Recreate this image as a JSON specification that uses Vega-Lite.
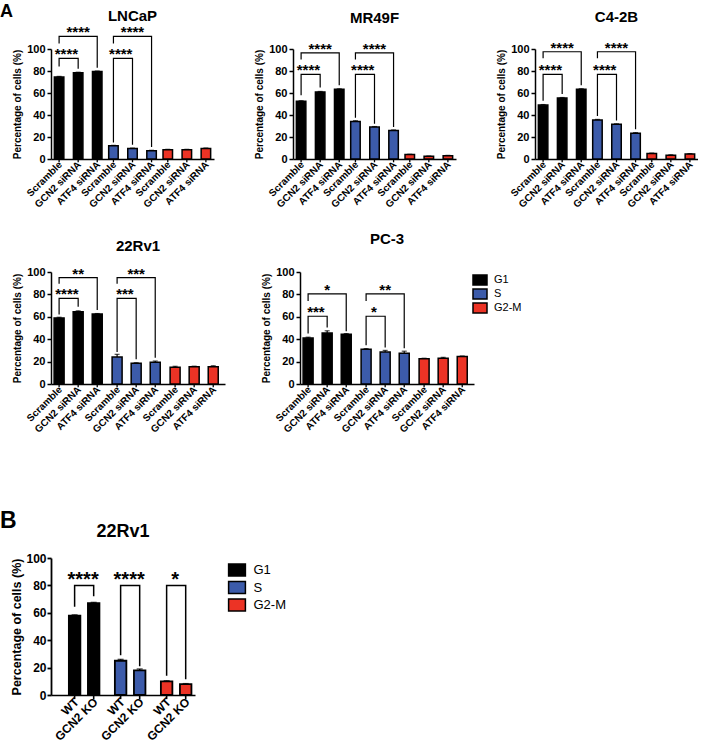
{
"$schema": "https://vega.github.io/schema/vega-lite/v6.json",
"padding": {"left": 0, "top": 3, "right": 0, "bottom": 0},
"background": "white",
"config": {
 "font": "Liberation Sans",
 "view": {"stroke": null},
 "axis": {"labelFont": "Liberation Sans", "labelFontSize": 11, "labelFontWeight": "bold", "labelColor": "#000", "labelOverlap": false, "titleFont": "Liberation Sans", "titleFontSize": 10, "titleFontWeight": "bold", "titleColor": "#000", "domainColor": "#000", "domainWidth": 1.5, "tickColor": "#000", "tickWidth": 1.5, "tickSize": 4, "labelPadding": 2, "titlePadding": 4, "grid": false},
 "title": {"font": "Liberation Sans", "fontWeight": "bold", "color": "#000", "frame": "group", "anchor": "middle", "baseline": "bottom"},
 "legend": {"labelFont": "Liberation Sans", "labelColor": "#000"}
},
"datasets": {"all": [
{"panel":"LNCaP","kind":"bar","phase":"G1","trt":"Scramble","value":74.5,"hi":75.1},
{"panel":"LNCaP","kind":"bar","phase":"G1","trt":"GCN2 siRNA","value":78.5,"hi":78.9},
{"panel":"LNCaP","kind":"bar","phase":"G1","trt":"ATF4 siRNA","value":79.5,"hi":80},
{"panel":"LNCaP","kind":"bar","phase":"S","trt":"Scramble","value":12,"hi":12.4},
{"panel":"LNCaP","kind":"bar","phase":"S","trt":"GCN2 siRNA","value":9.5,"hi":9.9},
{"panel":"LNCaP","kind":"bar","phase":"S","trt":"ATF4 siRNA","value":7.5,"hi":7.9},
{"panel":"LNCaP","kind":"bar","phase":"G2-M","trt":"Scramble","value":8.5,"hi":8.8},
{"panel":"LNCaP","kind":"bar","phase":"G2-M","trt":"GCN2 siRNA","value":8.5,"hi":8.8},
{"panel":"LNCaP","kind":"bar","phase":"G2-M","trt":"ATF4 siRNA","value":9.5,"hi":10},
{"panel":"LNCaP","kind":"br","phase":"G1","br":"G1a","s":1,"trt":"Scramble","y":84},
{"panel":"LNCaP","kind":"br","phase":"G1","br":"G1a","s":2,"trt":"Scramble","y":91.5},
{"panel":"LNCaP","kind":"br","phase":"G1","br":"G1a","s":3,"trt":"GCN2 siRNA","y":91.5},
{"panel":"LNCaP","kind":"br","phase":"G1","br":"G1a","s":4,"trt":"GCN2 siRNA","y":82},
{"panel":"LNCaP","kind":"br","phase":"G1","br":"G1b","s":1,"trt":"Scramble","y":105},
{"panel":"LNCaP","kind":"br","phase":"G1","br":"G1b","s":2,"trt":"Scramble","y":111.5},
{"panel":"LNCaP","kind":"br","phase":"G1","br":"G1b","s":3,"trt":"ATF4 siRNA","y":111.5},
{"panel":"LNCaP","kind":"br","phase":"G1","br":"G1b","s":4,"trt":"ATF4 siRNA","y":83},
{"panel":"LNCaP","kind":"br","phase":"S","br":"Sa","s":1,"trt":"Scramble","y":15},
{"panel":"LNCaP","kind":"br","phase":"S","br":"Sa","s":2,"trt":"Scramble","y":91.5},
{"panel":"LNCaP","kind":"br","phase":"S","br":"Sa","s":3,"trt":"GCN2 siRNA","y":91.5},
{"panel":"LNCaP","kind":"br","phase":"S","br":"Sa","s":4,"trt":"GCN2 siRNA","y":13},
{"panel":"LNCaP","kind":"br","phase":"S","br":"Sb","s":1,"trt":"Scramble","y":105},
{"panel":"LNCaP","kind":"br","phase":"S","br":"Sb","s":2,"trt":"Scramble","y":111.5},
{"panel":"LNCaP","kind":"br","phase":"S","br":"Sb","s":3,"trt":"ATF4 siRNA","y":111.5},
{"panel":"LNCaP","kind":"br","phase":"S","br":"Sb","s":4,"trt":"ATF4 siRNA","y":11},
{"panel":"LNCaP","kind":"star","phase":"G1","trt":"Scramble","y":91.5,"label":"****","span":"short"},
{"panel":"LNCaP","kind":"star","phase":"G1","trt":"GCN2 siRNA","y":111.5,"label":"****","span":"long"},
{"panel":"LNCaP","kind":"star","phase":"S","trt":"Scramble","y":91.5,"label":"****","span":"short"},
{"panel":"LNCaP","kind":"star","phase":"S","trt":"GCN2 siRNA","y":111.5,"label":"****","span":"long"},

{"panel":"MR49F","kind":"bar","phase":"G1","trt":"Scramble","value":52.5,"hi":53},
{"panel":"MR49F","kind":"bar","phase":"G1","trt":"GCN2 siRNA","value":61,"hi":61.4},
{"panel":"MR49F","kind":"bar","phase":"G1","trt":"ATF4 siRNA","value":63.5,"hi":63.8},
{"panel":"MR49F","kind":"bar","phase":"S","trt":"Scramble","value":34,"hi":34.8},
{"panel":"MR49F","kind":"bar","phase":"S","trt":"GCN2 siRNA","value":29,"hi":29.5},
{"panel":"MR49F","kind":"bar","phase":"S","trt":"ATF4 siRNA","value":26,"hi":26.4},
{"panel":"MR49F","kind":"bar","phase":"G2-M","trt":"Scramble","value":4,"hi":4.3},
{"panel":"MR49F","kind":"bar","phase":"G2-M","trt":"GCN2 siRNA","value":2.5,"hi":2.7},
{"panel":"MR49F","kind":"bar","phase":"G2-M","trt":"ATF4 siRNA","value":3,"hi":3.3},
{"panel":"MR49F","kind":"br","phase":"G1","br":"G1a","s":1,"trt":"Scramble","y":58},
{"panel":"MR49F","kind":"br","phase":"G1","br":"G1a","s":2,"trt":"Scramble","y":77},
{"panel":"MR49F","kind":"br","phase":"G1","br":"G1a","s":3,"trt":"GCN2 siRNA","y":77},
{"panel":"MR49F","kind":"br","phase":"G1","br":"G1a","s":4,"trt":"GCN2 siRNA","y":65},
{"panel":"MR49F","kind":"br","phase":"G1","br":"G1b","s":1,"trt":"Scramble","y":90.5},
{"panel":"MR49F","kind":"br","phase":"G1","br":"G1b","s":2,"trt":"Scramble","y":96.5},
{"panel":"MR49F","kind":"br","phase":"G1","br":"G1b","s":3,"trt":"ATF4 siRNA","y":96.5},
{"panel":"MR49F","kind":"br","phase":"G1","br":"G1b","s":4,"trt":"ATF4 siRNA","y":67},
{"panel":"MR49F","kind":"br","phase":"S","br":"Sa","s":1,"trt":"Scramble","y":37.5},
{"panel":"MR49F","kind":"br","phase":"S","br":"Sa","s":2,"trt":"Scramble","y":77},
{"panel":"MR49F","kind":"br","phase":"S","br":"Sa","s":3,"trt":"GCN2 siRNA","y":77},
{"panel":"MR49F","kind":"br","phase":"S","br":"Sa","s":4,"trt":"GCN2 siRNA","y":32},
{"panel":"MR49F","kind":"br","phase":"S","br":"Sb","s":1,"trt":"Scramble","y":90.5},
{"panel":"MR49F","kind":"br","phase":"S","br":"Sb","s":2,"trt":"Scramble","y":96.5},
{"panel":"MR49F","kind":"br","phase":"S","br":"Sb","s":3,"trt":"ATF4 siRNA","y":96.5},
{"panel":"MR49F","kind":"br","phase":"S","br":"Sb","s":4,"trt":"ATF4 siRNA","y":29},
{"panel":"MR49F","kind":"star","phase":"G1","trt":"Scramble","y":77,"label":"****","span":"short"},
{"panel":"MR49F","kind":"star","phase":"G1","trt":"GCN2 siRNA","y":96.5,"label":"****","span":"long"},
{"panel":"MR49F","kind":"star","phase":"S","trt":"Scramble","y":77,"label":"****","span":"short"},
{"panel":"MR49F","kind":"star","phase":"S","trt":"GCN2 siRNA","y":96.5,"label":"****","span":"long"},

{"panel":"C4-2B","kind":"bar","phase":"G1","trt":"Scramble","value":49,"hi":49.5},
{"panel":"C4-2B","kind":"bar","phase":"G1","trt":"GCN2 siRNA","value":55.5,"hi":55.9},
{"panel":"C4-2B","kind":"bar","phase":"G1","trt":"ATF4 siRNA","value":63.5,"hi":63.9},
{"panel":"C4-2B","kind":"bar","phase":"S","trt":"Scramble","value":35.5,"hi":36},
{"panel":"C4-2B","kind":"bar","phase":"S","trt":"GCN2 siRNA","value":31.5,"hi":32},
{"panel":"C4-2B","kind":"bar","phase":"S","trt":"ATF4 siRNA","value":23.5,"hi":24},
{"panel":"C4-2B","kind":"bar","phase":"G2-M","trt":"Scramble","value":5,"hi":5.4},
{"panel":"C4-2B","kind":"bar","phase":"G2-M","trt":"GCN2 siRNA","value":3.5,"hi":3.8},
{"panel":"C4-2B","kind":"bar","phase":"G2-M","trt":"ATF4 siRNA","value":4.5,"hi":4.9},
{"panel":"C4-2B","kind":"br","phase":"G1","br":"G1a","s":1,"trt":"Scramble","y":53},
{"panel":"C4-2B","kind":"br","phase":"G1","br":"G1a","s":2,"trt":"Scramble","y":77},
{"panel":"C4-2B","kind":"br","phase":"G1","br":"G1a","s":3,"trt":"GCN2 siRNA","y":77},
{"panel":"C4-2B","kind":"br","phase":"G1","br":"G1a","s":4,"trt":"GCN2 siRNA","y":59},
{"panel":"C4-2B","kind":"br","phase":"G1","br":"G1b","s":1,"trt":"Scramble","y":91.5},
{"panel":"C4-2B","kind":"br","phase":"G1","br":"G1b","s":2,"trt":"Scramble","y":97.5},
{"panel":"C4-2B","kind":"br","phase":"G1","br":"G1b","s":3,"trt":"ATF4 siRNA","y":97.5},
{"panel":"C4-2B","kind":"br","phase":"G1","br":"G1b","s":4,"trt":"ATF4 siRNA","y":67},
{"panel":"C4-2B","kind":"br","phase":"S","br":"Sa","s":1,"trt":"Scramble","y":39},
{"panel":"C4-2B","kind":"br","phase":"S","br":"Sa","s":2,"trt":"Scramble","y":77},
{"panel":"C4-2B","kind":"br","phase":"S","br":"Sa","s":3,"trt":"GCN2 siRNA","y":77},
{"panel":"C4-2B","kind":"br","phase":"S","br":"Sa","s":4,"trt":"GCN2 siRNA","y":35},
{"panel":"C4-2B","kind":"br","phase":"S","br":"Sb","s":1,"trt":"Scramble","y":91.5},
{"panel":"C4-2B","kind":"br","phase":"S","br":"Sb","s":2,"trt":"Scramble","y":97.5},
{"panel":"C4-2B","kind":"br","phase":"S","br":"Sb","s":3,"trt":"ATF4 siRNA","y":97.5},
{"panel":"C4-2B","kind":"br","phase":"S","br":"Sb","s":4,"trt":"ATF4 siRNA","y":27},
{"panel":"C4-2B","kind":"star","phase":"G1","trt":"Scramble","y":77,"label":"****","span":"short"},
{"panel":"C4-2B","kind":"star","phase":"G1","trt":"GCN2 siRNA","y":97.5,"label":"****","span":"long"},
{"panel":"C4-2B","kind":"star","phase":"S","trt":"Scramble","y":77,"label":"****","span":"short"},
{"panel":"C4-2B","kind":"star","phase":"S","trt":"GCN2 siRNA","y":97.5,"label":"****","span":"long"},

{"panel":"22Rv1","kind":"bar","phase":"G1","trt":"Scramble","value":59,"hi":59.6},
{"panel":"22Rv1","kind":"bar","phase":"G1","trt":"GCN2 siRNA","value":64.5,"hi":65.3},
{"panel":"22Rv1","kind":"bar","phase":"G1","trt":"ATF4 siRNA","value":62.5,"hi":62.9},
{"panel":"22Rv1","kind":"bar","phase":"S","trt":"Scramble","value":24,"hi":26.5},
{"panel":"22Rv1","kind":"bar","phase":"S","trt":"GCN2 siRNA","value":18.5,"hi":19},
{"panel":"22Rv1","kind":"bar","phase":"S","trt":"ATF4 siRNA","value":19.5,"hi":20.5},
{"panel":"22Rv1","kind":"bar","phase":"G2-M","trt":"Scramble","value":15,"hi":15.8},
{"panel":"22Rv1","kind":"bar","phase":"G2-M","trt":"GCN2 siRNA","value":15.5,"hi":15.9},
{"panel":"22Rv1","kind":"bar","phase":"G2-M","trt":"ATF4 siRNA","value":15.5,"hi":16.3},
{"panel":"22Rv1","kind":"br","phase":"G1","br":"G1a","s":1,"trt":"Scramble","y":62},
{"panel":"22Rv1","kind":"br","phase":"G1","br":"G1a","s":2,"trt":"Scramble","y":76.5},
{"panel":"22Rv1","kind":"br","phase":"G1","br":"G1a","s":3,"trt":"GCN2 siRNA","y":76.5},
{"panel":"22Rv1","kind":"br","phase":"G1","br":"G1a","s":4,"trt":"GCN2 siRNA","y":69},
{"panel":"22Rv1","kind":"br","phase":"G1","br":"G1b","s":1,"trt":"Scramble","y":89.5},
{"panel":"22Rv1","kind":"br","phase":"G1","br":"G1b","s":2,"trt":"Scramble","y":95},
{"panel":"22Rv1","kind":"br","phase":"G1","br":"G1b","s":3,"trt":"ATF4 siRNA","y":95},
{"panel":"22Rv1","kind":"br","phase":"G1","br":"G1b","s":4,"trt":"ATF4 siRNA","y":66},
{"panel":"22Rv1","kind":"br","phase":"S","br":"Sa","s":1,"trt":"Scramble","y":28.5},
{"panel":"22Rv1","kind":"br","phase":"S","br":"Sa","s":2,"trt":"Scramble","y":76.5},
{"panel":"22Rv1","kind":"br","phase":"S","br":"Sa","s":3,"trt":"GCN2 siRNA","y":76.5},
{"panel":"22Rv1","kind":"br","phase":"S","br":"Sa","s":4,"trt":"GCN2 siRNA","y":22},
{"panel":"22Rv1","kind":"br","phase":"S","br":"Sb","s":1,"trt":"Scramble","y":89.5},
{"panel":"22Rv1","kind":"br","phase":"S","br":"Sb","s":2,"trt":"Scramble","y":95},
{"panel":"22Rv1","kind":"br","phase":"S","br":"Sb","s":3,"trt":"ATF4 siRNA","y":95},
{"panel":"22Rv1","kind":"br","phase":"S","br":"Sb","s":4,"trt":"ATF4 siRNA","y":23.5},
{"panel":"22Rv1","kind":"star","phase":"G1","trt":"Scramble","y":76.5,"label":"****","span":"short"},
{"panel":"22Rv1","kind":"star","phase":"G1","trt":"GCN2 siRNA","y":95,"label":"**","span":"long"},
{"panel":"22Rv1","kind":"star","phase":"S","trt":"Scramble","y":76.5,"label":"***","span":"short"},
{"panel":"22Rv1","kind":"star","phase":"S","trt":"GCN2 siRNA","y":95,"label":"***","span":"long"},

{"panel":"PC-3","kind":"bar","phase":"G1","trt":"Scramble","value":41,"hi":41.8},
{"panel":"PC-3","kind":"bar","phase":"G1","trt":"GCN2 siRNA","value":45.5,"hi":47.5},
{"panel":"PC-3","kind":"bar","phase":"G1","trt":"ATF4 siRNA","value":44.5,"hi":45},
{"panel":"PC-3","kind":"bar","phase":"S","trt":"Scramble","value":31,"hi":31.6},
{"panel":"PC-3","kind":"bar","phase":"S","trt":"GCN2 siRNA","value":28.5,"hi":30},
{"panel":"PC-3","kind":"bar","phase":"S","trt":"ATF4 siRNA","value":27.5,"hi":29.3},
{"panel":"PC-3","kind":"bar","phase":"G2-M","trt":"Scramble","value":22.5,"hi":23},
{"panel":"PC-3","kind":"bar","phase":"G2-M","trt":"GCN2 siRNA","value":23,"hi":23.8},
{"panel":"PC-3","kind":"bar","phase":"G2-M","trt":"ATF4 siRNA","value":24.5,"hi":25},
{"panel":"PC-3","kind":"br","phase":"G1","br":"G1a","s":1,"trt":"Scramble","y":45},
{"panel":"PC-3","kind":"br","phase":"G1","br":"G1a","s":2,"trt":"Scramble","y":60.5},
{"panel":"PC-3","kind":"br","phase":"G1","br":"G1a","s":3,"trt":"GCN2 siRNA","y":60.5},
{"panel":"PC-3","kind":"br","phase":"G1","br":"G1a","s":4,"trt":"GCN2 siRNA","y":50.5},
{"panel":"PC-3","kind":"br","phase":"G1","br":"G1b","s":1,"trt":"Scramble","y":74},
{"panel":"PC-3","kind":"br","phase":"G1","br":"G1b","s":2,"trt":"Scramble","y":80.5},
{"panel":"PC-3","kind":"br","phase":"G1","br":"G1b","s":3,"trt":"ATF4 siRNA","y":80.5},
{"panel":"PC-3","kind":"br","phase":"G1","br":"G1b","s":4,"trt":"ATF4 siRNA","y":47},
{"panel":"PC-3","kind":"br","phase":"S","br":"Sa","s":1,"trt":"Scramble","y":34.5},
{"panel":"PC-3","kind":"br","phase":"S","br":"Sa","s":2,"trt":"Scramble","y":60.5},
{"panel":"PC-3","kind":"br","phase":"S","br":"Sa","s":3,"trt":"GCN2 siRNA","y":60.5},
{"panel":"PC-3","kind":"br","phase":"S","br":"Sa","s":4,"trt":"GCN2 siRNA","y":32.5},
{"panel":"PC-3","kind":"br","phase":"S","br":"Sb","s":1,"trt":"Scramble","y":74},
{"panel":"PC-3","kind":"br","phase":"S","br":"Sb","s":2,"trt":"Scramble","y":80.5},
{"panel":"PC-3","kind":"br","phase":"S","br":"Sb","s":3,"trt":"ATF4 siRNA","y":80.5},
{"panel":"PC-3","kind":"br","phase":"S","br":"Sb","s":4,"trt":"ATF4 siRNA","y":32},
{"panel":"PC-3","kind":"star","phase":"G1","trt":"Scramble","y":60.5,"label":"***","span":"short"},
{"panel":"PC-3","kind":"star","phase":"G1","trt":"GCN2 siRNA","y":80.5,"label":"*","span":"long"},
{"panel":"PC-3","kind":"star","phase":"S","trt":"Scramble","y":60.5,"label":"*","span":"short"},
{"panel":"PC-3","kind":"star","phase":"S","trt":"GCN2 siRNA","y":80.5,"label":"**","span":"long"},

{"panel":"B","kind":"bar","phase":"G1","trt":"WT","value":58,"hi":58.5},
{"panel":"B","kind":"bar","phase":"G1","trt":"GCN2 KO","value":67,"hi":67.6},
{"panel":"B","kind":"bar","phase":"S","trt":"WT","value":25,"hi":26},
{"panel":"B","kind":"bar","phase":"S","trt":"GCN2 KO","value":18,"hi":19},
{"panel":"B","kind":"bar","phase":"G2-M","trt":"WT","value":10,"hi":10.4},
{"panel":"B","kind":"bar","phase":"G2-M","trt":"GCN2 KO","value":8,"hi":8.3},
{"panel":"B","kind":"br","phase":"G1","br":"G1","s":1,"trt":"WT","y":64.5},
{"panel":"B","kind":"br","phase":"G1","br":"G1","s":2,"trt":"WT","y":80},
{"panel":"B","kind":"br","phase":"G1","br":"G1","s":3,"trt":"GCN2 KO","y":80},
{"panel":"B","kind":"br","phase":"G1","br":"G1","s":4,"trt":"GCN2 KO","y":72},
{"panel":"B","kind":"br","phase":"S","br":"S","s":1,"trt":"WT","y":29},
{"panel":"B","kind":"br","phase":"S","br":"S","s":2,"trt":"WT","y":80},
{"panel":"B","kind":"br","phase":"S","br":"S","s":3,"trt":"GCN2 KO","y":80},
{"panel":"B","kind":"br","phase":"S","br":"S","s":4,"trt":"GCN2 KO","y":21},
{"panel":"B","kind":"br","phase":"G2-M","br":"G2M","s":1,"trt":"WT","y":14},
{"panel":"B","kind":"br","phase":"G2-M","br":"G2M","s":2,"trt":"WT","y":80},
{"panel":"B","kind":"br","phase":"G2-M","br":"G2M","s":3,"trt":"GCN2 KO","y":80},
{"panel":"B","kind":"br","phase":"G2-M","br":"G2M","s":4,"trt":"GCN2 KO","y":11.5},
{"panel":"B","kind":"star","phase":"G1","trt":"WT","y":80,"label":"****","span":"short"},
{"panel":"B","kind":"star","phase":"S","trt":"WT","y":80,"label":"****","span":"short"},
{"panel":"B","kind":"star","phase":"G2-M","trt":"WT","y":80,"label":"*","span":"short"}
]},
"spacing": 75,
"resolve": {"scale": {"color": "independent"}, "legend": {"color": "independent"}},
"vconcat": [
{
 "title": {"text": "A", "anchor": "start", "fontSize": 18, "offset": -12, "dx": -51},
 "spacing": 22,
 "resolve": {"scale": {"color": "independent"}, "legend": {"color": "independent"}},
 "vconcat": [
 {
  "spacing": 40,
  "resolve": {"scale": {"color": "independent"}, "legend": {"color": "independent"}},
  "hconcat": [
  {
   "width": 163, "height": 110,
   "title": {"text": "LNCaP", "fontSize": 15, "offset": 1},
   "data": {"name": "all"},
   "transform": [{"filter": "datum.panel === 'LNCaP'"}],
   "encoding": {
    "x": {"field": "phase", "type": "nominal", "sort": ["G1","S","G2-M"], "title": null, "scale": {"paddingInner": 0, "paddingOuter": 0}, "axis": {"labels": false, "ticks": false}},
    "xOffset": {"field": "trt", "type": "nominal", "sort": ["Scramble","GCN2 siRNA","ATF4 siRNA"], "scale": {"paddingInner": 0, "paddingOuter": 0.35}}
   },
   "layer": [
    {"transform": [{"filter": "datum.kind === 'bar'"}], "mark": {"type": "bar", "stroke": "#000", "strokeWidth": 1.5, "width": 9.5}, "encoding": {"y": {"field": "value", "type": "quantitative", "title": "Percentage of cells (%)", "scale": {"domain": [0,100], "nice": false}, "axis": {"values": [0,20,40,60,80,100], "tickCount": 6, "labelOverlap": false}}, "color": {"field": "phase", "type": "nominal", "scale": {"domain": ["G1","S","G2-M"], "range": ["#000000","#3C5BAA","#EC3325"]}, "legend": null}}},
    {"transform": [{"filter": "datum.kind === 'bar'"}], "mark": {"type": "rule", "color": "#000", "strokeWidth": 1.2}, "encoding": {"y": {"field": "value", "type": "quantitative", "title": "Percentage of cells (%)", "axis": {"values": [0,20,40,60,80,100], "tickCount": 6, "labelOverlap": false}}, "y2": {"field": "hi"}}},
    {"transform": [{"filter": "datum.kind === 'bar'"}], "mark": {"type": "tick", "color": "#000", "thickness": 1.2, "size": 5}, "encoding": {"y": {"field": "hi", "type": "quantitative", "title": "Percentage of cells (%)", "axis": {"values": [0,20,40,60,80,100], "tickCount": 6, "labelOverlap": false}}}},
    {"transform": [{"filter": "datum.kind === 'bar'"}], "mark": {"type": "rule", "color": "#000", "strokeWidth": 1.3}, "encoding": {"y": {"datum": 0, "type": "quantitative", "axis": {"values": [0,20,40,60,80,100], "tickCount": 6, "labelOverlap": false}}, "y2": {"datum": -3}}},
    {"transform": [{"filter": "datum.kind === 'bar'"}], "mark": {"type": "text", "angle": 315, "align": "right", "baseline": "middle", "fontSize": 10, "fontWeight": "bold", "dx": -2, "dy": 4}, "encoding": {"y": {"datum": 0, "type": "quantitative", "axis": {"values": [0,20,40,60,80,100], "tickCount": 6, "labelOverlap": false}}, "text": {"field": "trt"}}},
    {"transform": [{"filter": "datum.kind === 'br'"}], "mark": {"type": "line", "color": "#000", "strokeWidth": 1.2}, "encoding": {"y": {"field": "y", "type": "quantitative", "title": "Percentage of cells (%)", "axis": {"values": [0,20,40,60,80,100], "tickCount": 6, "labelOverlap": false}}, "detail": {"field": "br", "type": "nominal"}, "order": {"field": "s", "type": "quantitative"}}},
    {"transform": [{"filter": "datum.kind === 'star' && datum.span === 'short'"}], "mark": {"type": "text", "fontSize": 15, "fontWeight": "bold", "baseline": "alphabetic", "dx": 7.3, "dy": 1}, "encoding": {"y": {"field": "y", "type": "quantitative", "title": "Percentage of cells (%)", "axis": {"values": [0,20,40,60,80,100], "tickCount": 6, "labelOverlap": false}}, "text": {"field": "label"}}},
    {"transform": [{"filter": "datum.kind === 'star' && datum.span === 'long'"}], "mark": {"type": "text", "fontSize": 15, "fontWeight": "bold", "baseline": "alphabetic", "dy": 1}, "encoding": {"y": {"field": "y", "type": "quantitative", "title": "Percentage of cells (%)", "axis": {"values": [0,20,40,60,80,100], "tickCount": 6, "labelOverlap": false}}, "text": {"field": "label"}}}
   ]
  },
  {
   "width": 163, "height": 110,
   "title": {"text": "MR49F", "fontSize": 15, "offset": 16},
   "data": {"name": "all"},
   "transform": [{"filter": "datum.panel === 'MR49F'"}],
   "encoding": {
    "x": {"field": "phase", "type": "nominal", "sort": ["G1","S","G2-M"], "title": null, "scale": {"paddingInner": 0, "paddingOuter": 0}, "axis": {"labels": false, "ticks": false}},
    "xOffset": {"field": "trt", "type": "nominal", "sort": ["Scramble","GCN2 siRNA","ATF4 siRNA"], "scale": {"paddingInner": 0, "paddingOuter": 0.35}}
   },
   "layer": [
    {"transform": [{"filter": "datum.kind === 'bar'"}], "mark": {"type": "bar", "stroke": "#000", "strokeWidth": 1.5, "width": 9.5}, "encoding": {"y": {"field": "value", "type": "quantitative", "title": "Percentage of cells (%)", "scale": {"domain": [0,100], "nice": false}, "axis": {"values": [0,20,40,60,80,100], "tickCount": 6, "labelOverlap": false}}, "color": {"field": "phase", "type": "nominal", "scale": {"domain": ["G1","S","G2-M"], "range": ["#000000","#3C5BAA","#EC3325"]}, "legend": null}}},
    {"transform": [{"filter": "datum.kind === 'bar'"}], "mark": {"type": "rule", "color": "#000", "strokeWidth": 1.2}, "encoding": {"y": {"field": "value", "type": "quantitative", "title": "Percentage of cells (%)", "axis": {"values": [0,20,40,60,80,100], "tickCount": 6, "labelOverlap": false}}, "y2": {"field": "hi"}}},
    {"transform": [{"filter": "datum.kind === 'bar'"}], "mark": {"type": "tick", "color": "#000", "thickness": 1.2, "size": 5}, "encoding": {"y": {"field": "hi", "type": "quantitative", "title": "Percentage of cells (%)", "axis": {"values": [0,20,40,60,80,100], "tickCount": 6, "labelOverlap": false}}}},
    {"transform": [{"filter": "datum.kind === 'bar'"}], "mark": {"type": "rule", "color": "#000", "strokeWidth": 1.3}, "encoding": {"y": {"datum": 0, "type": "quantitative", "axis": {"values": [0,20,40,60,80,100], "tickCount": 6, "labelOverlap": false}}, "y2": {"datum": -3}}},
    {"transform": [{"filter": "datum.kind === 'bar'"}], "mark": {"type": "text", "angle": 315, "align": "right", "baseline": "middle", "fontSize": 10, "fontWeight": "bold", "dx": -2, "dy": 4}, "encoding": {"y": {"datum": 0, "type": "quantitative", "axis": {"values": [0,20,40,60,80,100], "tickCount": 6, "labelOverlap": false}}, "text": {"field": "trt"}}},
    {"transform": [{"filter": "datum.kind === 'br'"}], "mark": {"type": "line", "color": "#000", "strokeWidth": 1.2}, "encoding": {"y": {"field": "y", "type": "quantitative", "title": "Percentage of cells (%)", "axis": {"values": [0,20,40,60,80,100], "tickCount": 6, "labelOverlap": false}}, "detail": {"field": "br", "type": "nominal"}, "order": {"field": "s", "type": "quantitative"}}},
    {"transform": [{"filter": "datum.kind === 'star' && datum.span === 'short'"}], "mark": {"type": "text", "fontSize": 15, "fontWeight": "bold", "baseline": "alphabetic", "dx": 7.3, "dy": 1}, "encoding": {"y": {"field": "y", "type": "quantitative", "title": "Percentage of cells (%)", "axis": {"values": [0,20,40,60,80,100], "tickCount": 6, "labelOverlap": false}}, "text": {"field": "label"}}},
    {"transform": [{"filter": "datum.kind === 'star' && datum.span === 'long'"}], "mark": {"type": "text", "fontSize": 15, "fontWeight": "bold", "baseline": "alphabetic", "dy": 1}, "encoding": {"y": {"field": "y", "type": "quantitative", "title": "Percentage of cells (%)", "axis": {"values": [0,20,40,60,80,100], "tickCount": 6, "labelOverlap": false}}, "text": {"field": "label"}}}
   ]
  },
  {
   "width": 163, "height": 110,
   "title": {"text": "C4-2B", "fontSize": 15, "offset": 16},
   "data": {"name": "all"},
   "transform": [{"filter": "datum.panel === 'C4-2B'"}],
   "encoding": {
    "x": {"field": "phase", "type": "nominal", "sort": ["G1","S","G2-M"], "title": null, "scale": {"paddingInner": 0, "paddingOuter": 0}, "axis": {"labels": false, "ticks": false}},
    "xOffset": {"field": "trt", "type": "nominal", "sort": ["Scramble","GCN2 siRNA","ATF4 siRNA"], "scale": {"paddingInner": 0, "paddingOuter": 0.35}}
   },
   "layer": [
    {"transform": [{"filter": "datum.kind === 'bar'"}], "mark": {"type": "bar", "stroke": "#000", "strokeWidth": 1.5, "width": 9.5}, "encoding": {"y": {"field": "value", "type": "quantitative", "title": "Percentage of cells (%)", "scale": {"domain": [0,100], "nice": false}, "axis": {"values": [0,20,40,60,80,100], "tickCount": 6, "labelOverlap": false}}, "color": {"field": "phase", "type": "nominal", "scale": {"domain": ["G1","S","G2-M"], "range": ["#000000","#3C5BAA","#EC3325"]}, "legend": null}}},
    {"transform": [{"filter": "datum.kind === 'bar'"}], "mark": {"type": "rule", "color": "#000", "strokeWidth": 1.2}, "encoding": {"y": {"field": "value", "type": "quantitative", "title": "Percentage of cells (%)", "axis": {"values": [0,20,40,60,80,100], "tickCount": 6, "labelOverlap": false}}, "y2": {"field": "hi"}}},
    {"transform": [{"filter": "datum.kind === 'bar'"}], "mark": {"type": "tick", "color": "#000", "thickness": 1.2, "size": 5}, "encoding": {"y": {"field": "hi", "type": "quantitative", "title": "Percentage of cells (%)", "axis": {"values": [0,20,40,60,80,100], "tickCount": 6, "labelOverlap": false}}}},
    {"transform": [{"filter": "datum.kind === 'bar'"}], "mark": {"type": "rule", "color": "#000", "strokeWidth": 1.3}, "encoding": {"y": {"datum": 0, "type": "quantitative", "axis": {"values": [0,20,40,60,80,100], "tickCount": 6, "labelOverlap": false}}, "y2": {"datum": -3}}},
    {"transform": [{"filter": "datum.kind === 'bar'"}], "mark": {"type": "text", "angle": 315, "align": "right", "baseline": "middle", "fontSize": 10, "fontWeight": "bold", "dx": -2, "dy": 4}, "encoding": {"y": {"datum": 0, "type": "quantitative", "axis": {"values": [0,20,40,60,80,100], "tickCount": 6, "labelOverlap": false}}, "text": {"field": "trt"}}},
    {"transform": [{"filter": "datum.kind === 'br'"}], "mark": {"type": "line", "color": "#000", "strokeWidth": 1.2}, "encoding": {"y": {"field": "y", "type": "quantitative", "title": "Percentage of cells (%)", "axis": {"values": [0,20,40,60,80,100], "tickCount": 6, "labelOverlap": false}}, "detail": {"field": "br", "type": "nominal"}, "order": {"field": "s", "type": "quantitative"}}},
    {"transform": [{"filter": "datum.kind === 'star' && datum.span === 'short'"}], "mark": {"type": "text", "fontSize": 15, "fontWeight": "bold", "baseline": "alphabetic", "dx": 7.3, "dy": 1}, "encoding": {"y": {"field": "y", "type": "quantitative", "title": "Percentage of cells (%)", "axis": {"values": [0,20,40,60,80,100], "tickCount": 6, "labelOverlap": false}}, "text": {"field": "label"}}},
    {"transform": [{"filter": "datum.kind === 'star' && datum.span === 'long'"}], "mark": {"type": "text", "fontSize": 15, "fontWeight": "bold", "baseline": "alphabetic", "dy": 1}, "encoding": {"y": {"field": "y", "type": "quantitative", "title": "Percentage of cells (%)", "axis": {"values": [0,20,40,60,80,100], "tickCount": 6, "labelOverlap": false}}, "text": {"field": "label"}}}
   ]
  }
  ]
 },
 {
  "spacing": 36,
  "resolve": {"scale": {"color": "independent"}, "legend": {"color": "independent"}},
  "hconcat": [
  {
   "width": 174, "height": 112,
   "title": {"text": "22Rv1", "fontSize": 15, "offset": 12},
   "data": {"name": "all"},
   "transform": [{"filter": "datum.panel === '22Rv1'"}],
   "encoding": {
    "x": {"field": "phase", "type": "nominal", "sort": ["G1","S","G2-M"], "title": null, "scale": {"paddingInner": 0, "paddingOuter": 0}, "axis": {"labels": false, "ticks": false}},
    "xOffset": {"field": "trt", "type": "nominal", "sort": ["Scramble","GCN2 siRNA","ATF4 siRNA"], "scale": {"paddingInner": 0, "paddingOuter": 0.36}}
   },
   "layer": [
    {"transform": [{"filter": "datum.kind === 'bar'"}], "mark": {"type": "bar", "stroke": "#000", "strokeWidth": 1.5, "width": 10}, "encoding": {"y": {"field": "value", "type": "quantitative", "title": "Percentage of cells (%)", "scale": {"domain": [0,100], "nice": false}, "axis": {"values": [0,20,40,60,80,100], "tickCount": 6, "labelOverlap": false}}, "color": {"field": "phase", "type": "nominal", "scale": {"domain": ["G1","S","G2-M"], "range": ["#000000","#3C5BAA","#EC3325"]}, "legend": null}}},
    {"transform": [{"filter": "datum.kind === 'bar'"}], "mark": {"type": "rule", "color": "#000", "strokeWidth": 1.2}, "encoding": {"y": {"field": "value", "type": "quantitative", "title": "Percentage of cells (%)", "axis": {"values": [0,20,40,60,80,100], "tickCount": 6, "labelOverlap": false}}, "y2": {"field": "hi"}}},
    {"transform": [{"filter": "datum.kind === 'bar'"}], "mark": {"type": "tick", "color": "#000", "thickness": 1.2, "size": 5}, "encoding": {"y": {"field": "hi", "type": "quantitative", "title": "Percentage of cells (%)", "axis": {"values": [0,20,40,60,80,100], "tickCount": 6, "labelOverlap": false}}}},
    {"transform": [{"filter": "datum.kind === 'bar'"}], "mark": {"type": "rule", "color": "#000", "strokeWidth": 1.3}, "encoding": {"y": {"datum": 0, "type": "quantitative", "axis": {"values": [0,20,40,60,80,100], "tickCount": 6, "labelOverlap": false}}, "y2": {"datum": -3}}},
    {"transform": [{"filter": "datum.kind === 'bar'"}], "mark": {"type": "text", "angle": 315, "align": "right", "baseline": "middle", "fontSize": 10, "fontWeight": "bold", "dx": -2, "dy": 4}, "encoding": {"y": {"datum": 0, "type": "quantitative", "axis": {"values": [0,20,40,60,80,100], "tickCount": 6, "labelOverlap": false}}, "text": {"field": "trt"}}},
    {"transform": [{"filter": "datum.kind === 'br'"}], "mark": {"type": "line", "color": "#000", "strokeWidth": 1.2}, "encoding": {"y": {"field": "y", "type": "quantitative", "title": "Percentage of cells (%)", "axis": {"values": [0,20,40,60,80,100], "tickCount": 6, "labelOverlap": false}}, "detail": {"field": "br", "type": "nominal"}, "order": {"field": "s", "type": "quantitative"}}},
    {"transform": [{"filter": "datum.kind === 'star' && datum.span === 'short'"}], "mark": {"type": "text", "fontSize": 15, "fontWeight": "bold", "baseline": "alphabetic", "dx": 7.8, "dy": 1}, "encoding": {"y": {"field": "y", "type": "quantitative", "title": "Percentage of cells (%)", "axis": {"values": [0,20,40,60,80,100], "tickCount": 6, "labelOverlap": false}}, "text": {"field": "label"}}},
    {"transform": [{"filter": "datum.kind === 'star' && datum.span === 'long'"}], "mark": {"type": "text", "fontSize": 15, "fontWeight": "bold", "baseline": "alphabetic", "dy": 1}, "encoding": {"y": {"field": "y", "type": "quantitative", "title": "Percentage of cells (%)", "axis": {"values": [0,20,40,60,80,100], "tickCount": 6, "labelOverlap": false}}, "text": {"field": "label"}}}
   ]
  },
  {
   "width": 174, "height": 112,
   "title": {"text": "PC-3", "fontSize": 15, "offset": 19},
   "data": {"name": "all"},
   "transform": [{"filter": "datum.panel === 'PC-3'"}],
   "encoding": {
    "x": {"field": "phase", "type": "nominal", "sort": ["G1","S","G2-M"], "title": null, "scale": {"paddingInner": 0, "paddingOuter": 0}, "axis": {"labels": false, "ticks": false}},
    "xOffset": {"field": "trt", "type": "nominal", "sort": ["Scramble","GCN2 siRNA","ATF4 siRNA"], "scale": {"paddingInner": 0, "paddingOuter": 0.36}}
   },
   "layer": [
    {"transform": [{"filter": "datum.kind === 'bar'"}], "mark": {"type": "bar", "stroke": "#000", "strokeWidth": 1.5, "width": 10}, "encoding": {"y": {"field": "value", "type": "quantitative", "title": "Percentage of cells (%)", "scale": {"domain": [0,100], "nice": false}, "axis": {"values": [0,20,40,60,80,100], "tickCount": 6, "labelOverlap": false}}, "color": {"field": "phase", "type": "nominal", "scale": {"domain": ["G1","S","G2-M"], "range": ["#000000","#3C5BAA","#EC3325"]}, "legend": {"orient": "right", "title": null, "offset": -2, "padding": 2, "symbolType": "M-1.4,-1H1.4V1H-1.4Z", "symbolSize": 100, "symbolStrokeColor": "#000", "symbolStrokeWidth": 1.5, "labelFontSize": 11, "labelOffset": 8, "rowPadding": -4.5}}}},
    {"transform": [{"filter": "datum.kind === 'bar'"}], "mark": {"type": "rule", "color": "#000", "strokeWidth": 1.2}, "encoding": {"y": {"field": "value", "type": "quantitative", "title": "Percentage of cells (%)", "axis": {"values": [0,20,40,60,80,100], "tickCount": 6, "labelOverlap": false}}, "y2": {"field": "hi"}}},
    {"transform": [{"filter": "datum.kind === 'bar'"}], "mark": {"type": "tick", "color": "#000", "thickness": 1.2, "size": 5}, "encoding": {"y": {"field": "hi", "type": "quantitative", "title": "Percentage of cells (%)", "axis": {"values": [0,20,40,60,80,100], "tickCount": 6, "labelOverlap": false}}}},
    {"transform": [{"filter": "datum.kind === 'bar'"}], "mark": {"type": "rule", "color": "#000", "strokeWidth": 1.3}, "encoding": {"y": {"datum": 0, "type": "quantitative", "axis": {"values": [0,20,40,60,80,100], "tickCount": 6, "labelOverlap": false}}, "y2": {"datum": -3}}},
    {"transform": [{"filter": "datum.kind === 'bar'"}], "mark": {"type": "text", "angle": 315, "align": "right", "baseline": "middle", "fontSize": 10, "fontWeight": "bold", "dx": -2, "dy": 4}, "encoding": {"y": {"datum": 0, "type": "quantitative", "axis": {"values": [0,20,40,60,80,100], "tickCount": 6, "labelOverlap": false}}, "text": {"field": "trt"}}},
    {"transform": [{"filter": "datum.kind === 'br'"}], "mark": {"type": "line", "color": "#000", "strokeWidth": 1.2}, "encoding": {"y": {"field": "y", "type": "quantitative", "title": "Percentage of cells (%)", "axis": {"values": [0,20,40,60,80,100], "tickCount": 6, "labelOverlap": false}}, "detail": {"field": "br", "type": "nominal"}, "order": {"field": "s", "type": "quantitative"}}},
    {"transform": [{"filter": "datum.kind === 'star' && datum.span === 'short'"}], "mark": {"type": "text", "fontSize": 15, "fontWeight": "bold", "baseline": "alphabetic", "dx": 7.8, "dy": 1}, "encoding": {"y": {"field": "y", "type": "quantitative", "title": "Percentage of cells (%)", "axis": {"values": [0,20,40,60,80,100], "tickCount": 6, "labelOverlap": false}}, "text": {"field": "label"}}},
    {"transform": [{"filter": "datum.kind === 'star' && datum.span === 'long'"}], "mark": {"type": "text", "fontSize": 15, "fontWeight": "bold", "baseline": "alphabetic", "dy": 1}, "encoding": {"y": {"field": "y", "type": "quantitative", "title": "Percentage of cells (%)", "axis": {"values": [0,20,40,60,80,100], "tickCount": 6, "labelOverlap": false}}, "text": {"field": "label"}}}
   ]
  }
  ]
 }
 ]
},
{
 "title": {"text": "B", "anchor": "start", "fontSize": 23, "offset": -10, "dx": -51},
 "resolve": {"scale": {"color": "independent"}, "legend": {"color": "independent"}},
 "hconcat": [
  {
   "width": 144, "height": 137,
   "title": {"text": "22Rv1", "fontSize": 18, "offset": 11},
   "data": {"name": "all"},
   "transform": [{"filter": "datum.panel === 'B'"}],
   "encoding": {
    "x": {"field": "phase", "type": "nominal", "sort": ["G1","S","G2-M"], "title": null, "scale": {"paddingInner": 0, "paddingOuter": 0.065, "align": 1}, "axis": {"labels": false, "ticks": false}},
    "xOffset": {"field": "trt", "type": "nominal", "sort": ["WT","GCN2 KO"], "scale": {"paddingInner": 0, "paddingOuter": 0.35}}
   },
   "layer": [
    {"transform": [{"filter": "datum.kind === 'bar'"}], "mark": {"type": "bar", "stroke": "#000", "strokeWidth": 1.8, "width": 11.5}, "encoding": {"y": {"field": "value", "type": "quantitative", "title": "Percentage of cells (%)", "scale": {"domain": [0,100], "nice": false}, "axis": {"values": [0,20,40,60,80,100], "tickCount": 6, "labelOverlap": false, "labelFontSize": 12, "titleFontSize": 12.5, "tickSize": 4, "labelPadding": 1, "titlePadding": 2, "domainWidth": 1.8, "tickWidth": 1.8}}, "color": {"field": "phase", "type": "nominal", "scale": {"domain": ["G1","S","G2-M"], "range": ["#000000","#3C5BAA","#EC3325"]}, "legend": {"orient": "right", "title": null, "offset": 30, "padding": 5, "symbolType": "M-1.4,-1H1.4V1H-1.4Z", "symbolSize": 144, "symbolStrokeColor": "#000", "symbolStrokeWidth": 1.5, "labelFontSize": 13, "labelOffset": 9.5, "rowPadding": -0.5}}}},
    {"transform": [{"filter": "datum.kind === 'bar'"}], "mark": {"type": "rule", "color": "#000", "strokeWidth": 1.4}, "encoding": {"y": {"field": "value", "type": "quantitative", "title": "Percentage of cells (%)", "axis": {"values": [0,20,40,60,80,100], "tickCount": 6, "labelOverlap": false}}, "y2": {"field": "hi"}}},
    {"transform": [{"filter": "datum.kind === 'bar'"}], "mark": {"type": "tick", "color": "#000", "thickness": 1.4, "size": 6}, "encoding": {"y": {"field": "hi", "type": "quantitative", "title": "Percentage of cells (%)", "axis": {"values": [0,20,40,60,80,100], "tickCount": 6, "labelOverlap": false}}}},
    {"transform": [{"filter": "datum.kind === 'bar'"}], "mark": {"type": "rule", "color": "#000", "strokeWidth": 1.6}, "encoding": {"y": {"datum": 0, "type": "quantitative", "axis": {"values": [0,20,40,60,80,100], "tickCount": 6, "labelOverlap": false}}, "y2": {"datum": -3}}},
    {"transform": [{"filter": "datum.kind === 'bar'"}], "mark": {"type": "text", "angle": 315, "align": "right", "baseline": "middle", "fontSize": 12, "fontWeight": "bold", "dx": -2, "dy": 5}, "encoding": {"y": {"datum": 0, "type": "quantitative", "axis": {"values": [0,20,40,60,80,100], "tickCount": 6, "labelOverlap": false}}, "text": {"field": "trt"}}},
    {"transform": [{"filter": "datum.kind === 'br'"}], "mark": {"type": "line", "color": "#000", "strokeWidth": 1.5}, "encoding": {"y": {"field": "y", "type": "quantitative", "title": "Percentage of cells (%)", "axis": {"values": [0,20,40,60,80,100], "tickCount": 6, "labelOverlap": false}}, "detail": {"field": "br", "type": "nominal"}, "order": {"field": "s", "type": "quantitative"}}},
    {"transform": [{"filter": "datum.kind === 'star' && datum.span === 'short'"}], "mark": {"type": "text", "fontSize": 20, "fontWeight": "bold", "baseline": "alphabetic", "dx": 8.5, "dy": 1}, "encoding": {"y": {"field": "y", "type": "quantitative", "title": "Percentage of cells (%)", "axis": {"values": [0,20,40,60,80,100], "tickCount": 6, "labelOverlap": false}}, "text": {"field": "label"}}}
   ]
  }
 ]
}
]
}
